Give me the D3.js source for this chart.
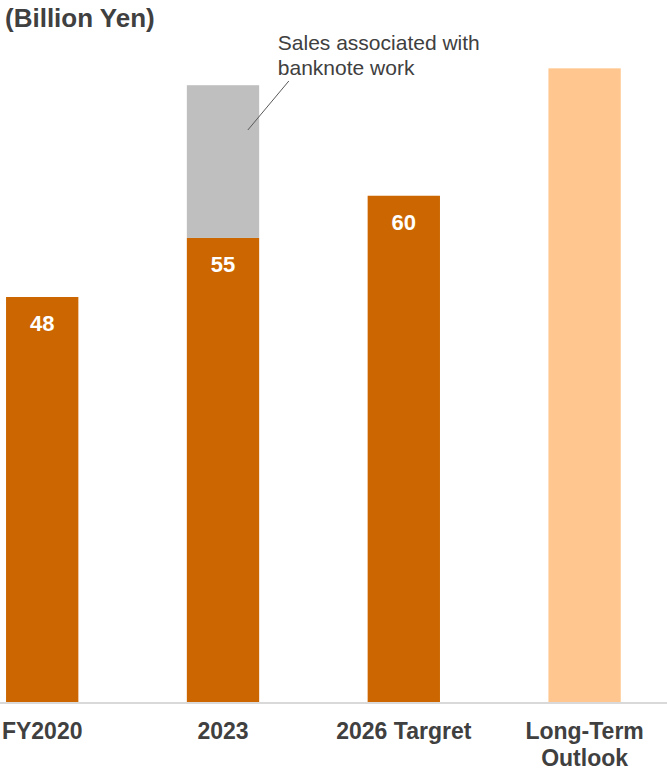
<!DOCTYPE html>
<html>
<head>
<meta charset="utf-8">
<script src="https://cdn.jsdelivr.net/npm/d3@7"></script>
<style>
  body { margin: 0; background: #fff; }
  svg { display: block; font-family: "Liberation Sans", Arial, sans-serif; }
</style>
</head>
<body>
<script>
// chart data
const categories = ["FY2020", "2023", "2026 Targret", "Long-Term Outlook"];
const categoryLines = [["FY2020"], ["2023"], ["2026 Targret"], ["Long-Term", "Outlook"]];
const baseValues = [48, 55, 60, null];
const banknoteValues = [null, 18.1, null, null];   // grey stack on top of 2023
const outlookValues = [null, null, null, 75.1];    // light bar, no label
const valueLabels = ["48", "55", "60", ""];
const unitLabel = "(Billion Yen)";
const noteLines = ["Sales associated with", "banknote work"];

const width = 667;
const height = 771;
const baseline = 702;

const svg = d3.select("body").append("svg")
  .attr("width", width)
  .attr("height", height);

// scales
const x = d3.scaleBand()
  .domain(categories)
  .range([-48.2, 675])
  .paddingInner(0.6)
  .paddingOuter(0.3);

const y = d3.scaleLinear()
  .domain([0, 83.2])
  .range([baseline, 0]);

// base orange bars
svg.append("g")
  .selectAll("rect")
  .data(categories.map((c, i) => ({ c, v: baseValues[i] })).filter(d => d.v != null))
  .join("rect")
  .attr("x", d => x(d.c))
  .attr("width", x.bandwidth())
  .attr("y", d => y(d.v))
  .attr("height", d => y(0) - y(d.v))
  .attr("fill", "#cc6600");

// grey stacked part
svg.append("g")
  .selectAll("rect")
  .data(categories.map((c, i) => ({ c, lo: baseValues[i], v: banknoteValues[i] })).filter(d => d.v != null))
  .join("rect")
  .attr("x", d => x(d.c))
  .attr("width", x.bandwidth())
  .attr("y", d => y(d.lo + d.v))
  .attr("height", d => y(d.lo) - y(d.lo + d.v))
  .attr("fill", "#bfbfbf");

// long-term outlook bar
svg.append("g")
  .selectAll("rect")
  .data(categories.map((c, i) => ({ c, v: outlookValues[i] })).filter(d => d.v != null))
  .join("rect")
  .attr("x", d => x(d.c))
  .attr("width", x.bandwidth())
  .attr("y", d => y(d.v))
  .attr("height", d => y(0) - y(d.v))
  .attr("fill", "#ffc78f");

// value labels inside bars
svg.append("g")
  .selectAll("text")
  .data(categories.map((c, i) => ({ c, v: baseValues[i], t: valueLabels[i] })).filter(d => d.t))
  .join("text")
  .attr("x", d => x(d.c) + x.bandwidth() / 2)
  .attr("y", d => y(d.v) + 34)
  .attr("text-anchor", "middle")
  .attr("fill", "#fff")
  .attr("font-weight", "bold")
  .attr("font-size", 22)
  .text(d => d.t);

// baseline
svg.append("line")
  .attr("x1", 0).attr("x2", width)
  .attr("y1", baseline + 1).attr("y2", baseline + 1)
  .attr("stroke", "#d9d9d9")
  .attr("stroke-width", 2);

// category labels
const xl = svg.append("g")
  .selectAll("text")
  .data(categories.map((c, i) => ({ c, lines: categoryLines[i] })))
  .join("text")
  .attr("text-anchor", "middle")
  .attr("fill", "#404040")
  .attr("font-weight", "bold")
  .attr("font-size", 23);
xl.selectAll("tspan")
  .data(d => d.lines.map(l => ({ c: d.c, l })))
  .join("tspan")
  .attr("x", d => x(d.c) + x.bandwidth() / 2)
  .attr("y", (d, i) => 739 + i * 27)
  .text(d => d.l);

// unit title
svg.append("text")
  .attr("x", 5)
  .attr("y", 27)
  .attr("fill", "#404040")
  .attr("font-weight", "bold")
  .attr("font-size", 26)
  .text(unitLabel);

// annotation for banknote work
const x23 = x("2023");
svg.append("line")
  .attr("x1", x23 + 61).attr("y1", 130)
  .attr("x2", x23 + 102).attr("y2", 81)
  .attr("stroke", "#595959")
  .attr("stroke-width", 1);

svg.append("g")
  .selectAll("text")
  .data(noteLines)
  .join("text")
  .attr("x", x23 + 91)
  .attr("y", (d, i) => 50 + i * 25)
  .attr("fill", "#404040")
  .attr("font-size", 21)
  .text(d => d);
</script>
</body>
</html>
